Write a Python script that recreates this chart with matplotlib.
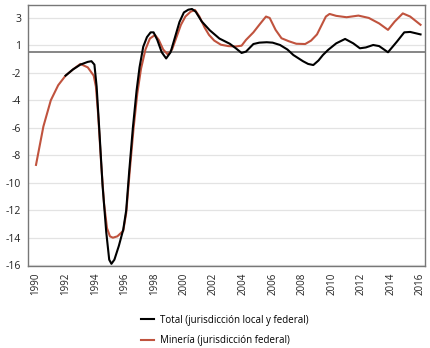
import matplotlib
matplotlib.use("Agg")
import matplotlib.pyplot as plt

plt.rcParams['font.family'] = ['Open Sans', 'DejaVu Sans']

# Total (jurisdiccion local y federal)
total_x = [1992, 1992.5, 1993, 1993.5, 1993.75, 1993.95,
           1994.1, 1994.3, 1994.5, 1994.75, 1994.95, 1995.1, 1995.3, 1995.6, 1995.9,
           1996.1, 1996.3, 1996.55, 1996.8, 1997.0, 1997.25, 1997.5, 1997.75, 1997.95,
           1998.2, 1998.5, 1998.8, 1999.1, 1999.4, 1999.7, 2000.0, 2000.3, 2000.55,
           2000.8, 2001.2, 2001.75, 2002.4, 2003.1, 2003.5, 2003.9, 2004.2, 2004.7,
           2005.1, 2005.6, 2006.0, 2006.5, 2007.0, 2007.4, 2008.05, 2008.4, 2008.75,
           2009.1, 2009.4, 2009.75, 2010.3, 2010.9, 2011.45, 2011.9, 2012.3, 2012.8,
           2013.2, 2013.8, 2014.4, 2014.9, 2015.3, 2016.0]
total_y = [-2.2, -1.75, -1.4, -1.2, -1.15, -1.4,
           -3.0, -6.5, -10.2, -13.6, -15.6, -15.9, -15.6, -14.6, -13.4,
           -12.0, -9.2, -6.0, -3.3, -1.6, -0.1, 0.6, 0.95, 0.95,
           0.4, -0.5, -0.95, -0.5, 0.6, 1.7, 2.4, 2.6, 2.65,
           2.45, 1.75, 1.1, 0.5, 0.12, -0.2, -0.55, -0.45, 0.1,
           0.2, 0.23, 0.2, 0.03, -0.3, -0.7, -1.15, -1.35, -1.43,
           -1.1, -0.7, -0.33, 0.15, 0.47, 0.15, -0.21, -0.15, 0.03,
           -0.05, -0.5, 0.27, 0.95, 0.98, 0.8]

# Mineria (jurisdiccion federal)
min_x = [1990, 1990.5, 1991, 1991.5, 1992, 1992.5, 1993, 1993.5, 1993.9, 1994.05,
         1994.2, 1994.4, 1994.6, 1994.8, 1995.0, 1995.2, 1995.5, 1995.9, 1996.1,
         1996.35, 1996.6, 1996.85, 1997.1, 1997.4, 1997.7, 1998.05, 1998.3, 1998.6,
         1998.9, 1999.2, 1999.5, 1999.8, 2000.1, 2000.45, 2000.75, 2001.05, 2001.4,
         2001.7, 2002.05, 2002.5, 2003.0, 2003.5, 2003.9, 2004.2, 2004.7, 2005.1,
         2005.55, 2005.8, 2006.2, 2006.6, 2007.1, 2007.6, 2008.2, 2008.6, 2009.0,
         2009.3, 2009.6, 2009.85, 2010.3, 2011.0, 2011.8, 2012.5, 2013.2, 2013.8,
         2014.25, 2014.8, 2015.3, 2016.0]
min_y = [-8.7, -5.9, -4.0, -2.9, -2.2, -1.75, -1.35, -1.6, -2.2, -3.0,
         -5.0, -8.5, -11.5, -13.3, -13.9, -14.0, -13.9, -13.5, -12.2,
         -9.0, -6.0, -3.5, -1.7, -0.3, 0.5, 0.76, 0.4, -0.3,
         -0.65, -0.3, 0.6, 1.5, 2.1, 2.45, 2.58, 2.1, 1.3,
         0.76, 0.35, 0.05, -0.05, -0.08, -0.02, 0.4, 0.95, 1.5,
         2.1, 2.0, 1.13, 0.52, 0.3, 0.12, 0.1, 0.35, 0.8,
         1.45, 2.1, 2.29, 2.15, 2.05, 2.17, 2.0, 1.6, 1.13,
         1.73, 2.33, 2.1, 1.5]

year_ticks = list(range(1990, 2017, 2))
y_pos = [2, 0, -2, -4, -6, -8, -10, -12, -14, -16]
y_labels = ['3', '1', '-2', '-4', '-6', '-8', '-10', '-12', '-14', '-16']

fig = plt.figure(figsize=(4.31, 3.48), dpi=100)
ax = fig.add_axes([0.065, 0.236, 0.921, 0.750])

red = '#c0533e'
ax.plot(total_x, total_y, color='black', lw=1.5, label='Total (jurisdicción local y federal)', zorder=4)
ax.plot(min_x, min_y, color=red, lw=1.5, label='Minería (jurisdicción federal)', zorder=3)
ax.axhline(-0.45, color='#666666', lw=1.1, zorder=2)

ax.set_xlim(1989.46, 2016.3)
ax.set_ylim(-16.05, 2.95)
ax.set_xticks(year_ticks)
ax.set_xticklabels([str(y) for y in year_ticks], rotation=90, fontsize=7)
ax.set_yticks(y_pos)
ax.set_yticklabels(y_labels, fontsize=7.5)
ax.tick_params(length=0, pad=5, colors='#222222')
ax.grid(axis='y', color='#e3e3e3', lw=0.9)
ax.set_axisbelow(True)
for s in ax.spines.values():
    s.set_color('#777777')
    s.set_linewidth(1)

fig.legend(loc='center', bbox_to_anchor=(0.522, 0.05), frameon=False, fontsize=7,
           handlelength=1.3, labelspacing=1.0, handletextpad=0.6)

fig.savefig('out.png', dpi=100)
